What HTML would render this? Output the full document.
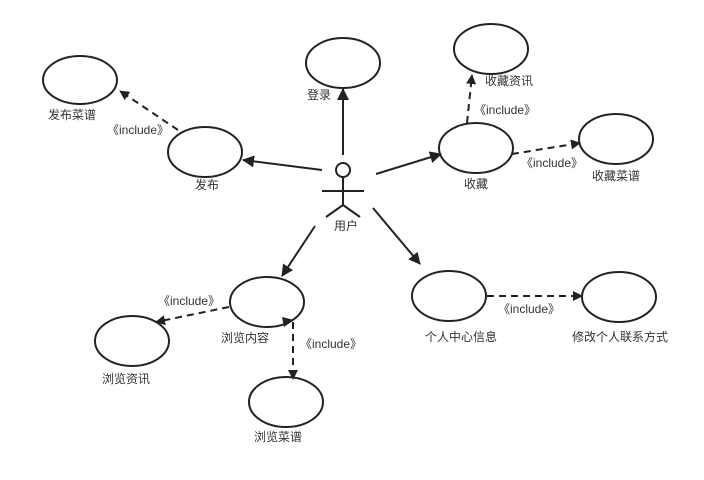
<!DOCTYPE html>
<html><head><meta charset="utf-8"><style>
html,body{margin:0;padding:0;background:#fff;}
svg{display:block;}
text{font-family:"Liberation Sans","Noto Sans CJK SC",sans-serif;font-size:12px;fill:#333;}
</style></head><body>
<svg width="704" height="480" viewBox="0 0 704 480" xmlns="http://www.w3.org/2000/svg">
<defs>
<marker id="a" markerWidth="10" markerHeight="10" refX="9" refY="5" orient="auto" markerUnits="userSpaceOnUse"><path d="M0,0 L10,5 L0,10 z" fill="#222"/></marker>
<marker id="b" markerWidth="12" markerHeight="12" refX="11" refY="6" orient="auto" markerUnits="userSpaceOnUse"><path d="M0,0 L12,6 L0,12 z" fill="#222"/></marker>
</defs>
<g fill="none" stroke="#222" stroke-width="2">
<ellipse cx="80" cy="80" rx="37" ry="24"/>
<ellipse cx="343" cy="63" rx="37" ry="25"/>
<ellipse cx="205" cy="152" rx="37" ry="25"/>
<ellipse cx="491" cy="49" rx="37" ry="25"/>
<ellipse cx="476" cy="148" rx="37" ry="25"/>
<ellipse cx="616" cy="139" rx="37" ry="25"/>
<ellipse cx="267" cy="302" rx="37" ry="25"/>
<ellipse cx="132" cy="341" rx="37" ry="25"/>
<ellipse cx="286" cy="402" rx="37" ry="25"/>
<ellipse cx="449" cy="296" rx="37" ry="25"/>
<ellipse cx="619" cy="297" rx="37" ry="25"/>
<!-- actor -->
<circle cx="343" cy="170" r="7"/>
<line x1="343" y1="177" x2="343" y2="205"/>
<line x1="322" y1="191" x2="364" y2="191"/>
<line x1="343" y1="205" x2="326" y2="217"/>
<line x1="343" y1="205" x2="360" y2="217"/>
<!-- solid arrows -->
<line x1="343" y1="155" x2="343" y2="89" marker-end="url(#b)"/>
<line x1="322" y1="170" x2="243" y2="160" marker-end="url(#b)"/>
<line x1="376" y1="174" x2="441" y2="154" marker-end="url(#b)"/>
<line x1="373" y1="208" x2="420" y2="264" marker-end="url(#b)"/>
<line x1="315" y1="226" x2="282" y2="276" marker-end="url(#b)"/>
<!-- dashed -->
<g stroke-dasharray="7,5">
<line x1="178" y1="130" x2="120" y2="91" marker-end="url(#a)"/>
<line x1="467" y1="123" x2="472" y2="75" marker-end="url(#a)"/>
<line x1="512" y1="154" x2="580" y2="143" marker-end="url(#a)"/>
<line x1="229" y1="307" x2="156" y2="322" marker-end="url(#a)"/>
<line x1="293" y1="322" x2="293" y2="379" marker-end="url(#a)"/>
<line x1="487" y1="296" x2="582" y2="296" marker-end="url(#a)"/>
</g>
</g>
<path d="M282,317 L294,320 L284,327 z" fill="#222"/>
<text x="48" y="119">发布菜谱</text>
<text x="107" y="134">《include》</text>
<text x="307" y="99">登录</text>
<text x="195" y="189">发布</text>
<text x="334" y="230">用户</text>
<text x="485" y="85">收藏资讯</text>
<text x="474" y="114">《include》</text>
<text x="464" y="188">收藏</text>
<text x="521" y="167">《include》</text>
<text x="592" y="180">收藏菜谱</text>
<text x="158" y="305">《include》</text>
<text x="221" y="342">浏览内容</text>
<text x="300" y="348">《include》</text>
<text x="102" y="383">浏览资讯</text>
<text x="254" y="441">浏览菜谱</text>
<text x="425" y="341">个人中心信息</text>
<text x="498" y="313">《include》</text>
<text x="572" y="341">修改个人联系方式</text>
</svg>
</body></html>
